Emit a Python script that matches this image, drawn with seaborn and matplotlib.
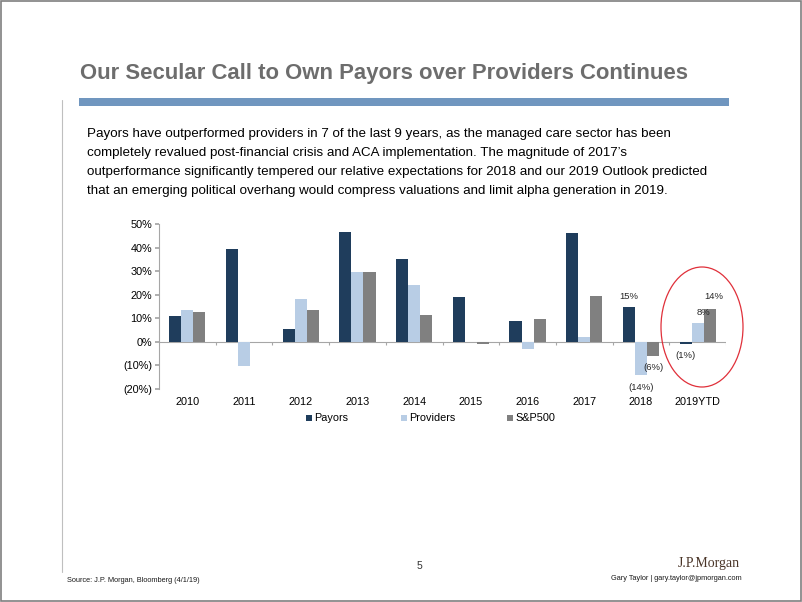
import matplotlib
matplotlib.use("Agg")
import matplotlib.pyplot as plt
from matplotlib.patches import Ellipse, Rectangle
from matplotlib.ticker import FuncFormatter
import seaborn as sns
import pandas as pd
import numpy as np

years = ["2010", "2011", "2012", "2013", "2014", "2015", "2016", "2017", "2018", "2019YTD"]
payors = [11.1, 39.6, 5.3, 46.6, 35.3, 18.9, 8.7, 46.3, 15.0, -1.0]
providers = [13.5, -10.4, 18.1, 29.6, 24.1, 0.0, -3.1, 2.1, -14.0, 8.0]
sp500 = [12.7, 0.0, 13.5, 29.6, 11.4, -0.7, 9.5, 19.4, -6.0, 14.0]
series_names = ["Payors", "Providers", "S&P500"]
colors = ["#1F3D5C", "#B8CDE5", "#808080"]

df = pd.DataFrame({
    "year": years * 3,
    "value": payors + providers + sp500,
    "series": [series_names[0]] * 10 + [series_names[1]] * 10 + [series_names[2]] * 10,
})

sns.set_theme(style="white")
plt.rcParams["font.family"] = ["Liberation Sans", "DejaVu Sans"]

fig = plt.figure(figsize=(8.02, 6.02), dpi=100)
W, H = 802, 602

def fx(x):
    return x / W

def fy(y):
    return 1 - y / H

# frame border
fig.patches.append(Rectangle((0.001, 0.001), 0.998, 0.997, transform=fig.transFigure,
                             fill=False, edgecolor="#7F7F7F", linewidth=1.2))
# left vertical rule
fig.add_artist(plt.Line2D([fx(62), fx(62)], [fy(100), fy(572)], transform=fig.transFigure,
                          color="#BFBFBF", linewidth=0.8))
# title
fig.text(fx(80), fy(74), "Our Secular Call to Own Payors over Providers Continues",
         fontsize=15.9, fontweight="bold", color="#6D6D6D", va="center", ha="left")
# blue bar
fig.patches.append(Rectangle((fx(79), fy(106)), fx(729) - fx(79), fy(98) - fy(106),
                             transform=fig.transFigure, facecolor="#7096BF", edgecolor="none"))
# paragraph
para = ("Payors have outperformed providers in 7 of the last 9 years, as the managed care sector has been\n"
        "completely revalued post-financial crisis and ACA implementation. The magnitude of 2017\u2019s\n"
        "outperformance significantly tempered our relative expectations for 2018 and our 2019 Outlook predicted\n"
        "that an emerging political overhang would compress valuations and limit alpha generation in 2019.")
fig.text(fx(87), fy(128), para, fontsize=9.6, color="#000000", va="top", ha="left", linespacing=1.76)

# chart axes
left, right, top, bottom = 159, 726, 224, 389
ax = fig.add_axes([fx(left), fy(bottom), fx(right) - fx(left), fy(top) - fy(bottom)])
sns.barplot(data=df, x="year", y="value", hue="series", palette=colors, order=years,
            hue_order=series_names, width=0.64, gap=0, dodge=True, ax=ax, legend=False,
            saturation=1, errorbar=None, linewidth=0)
ax.set_ylim(-20, 50)
ax.set_xlim(-0.5, len(years) - 0.5)
ax.set_yticks(np.arange(-20, 51, 10))
ax.yaxis.set_major_formatter(FuncFormatter(lambda v, p: f"{int(v)}%" if v >= 0 else f"({int(-v)}%)"))
ax.set_xlabel("")
ax.set_ylabel("")
for s in ["top", "right", "bottom"]:
    ax.spines[s].set_visible(False)
ax.spines["left"].set_color("#A6A6A6")
ax.spines["left"].set_linewidth(0.8)
ax.tick_params(axis="y", length=3, color="#A6A6A6", labelsize=7.8, pad=2, left=True)
ax.tick_params(axis="x", length=0, labelsize=7.8, pad=6)
ax.axhline(0, color="#A6A6A6", linewidth=0.8, zorder=0.5)
ax.vlines(np.arange(0.5, len(years) - 0.5 + 1, 1.0), -1.2, 0, color="#A6A6A6", linewidth=0.8)
for lab in ax.get_xticklabels() + ax.get_yticklabels():
    lab.set_color("#000000")

# data labels
ax.annotate("15%", (8 - 0.213, payors[8]), xytext=(0, 4), textcoords="offset points",
            ha="center", va="bottom", fontsize=6.8)
ax.annotate("(14%)", (8, providers[8]), xytext=(0, -6), textcoords="offset points",
            ha="center", va="top", fontsize=6.8)
ax.annotate("(6%)", (8 + 0.213, sp500[8]), xytext=(0, -5), textcoords="offset points",
            ha="center", va="top", fontsize=6.8)
ax.annotate("(1%)", (9 - 0.213, payors[9]), xytext=(0, -5), textcoords="offset points",
            ha="center", va="top", fontsize=6.8)
ax.annotate("8%", (9, providers[9]), xytext=(4, 4), textcoords="offset points",
            ha="center", va="bottom", fontsize=6.8)
ax.annotate("14%", (9 + 0.213, sp500[9]), xytext=(3, 6), textcoords="offset points",
            ha="center", va="bottom", fontsize=6.8)

# red ellipse
fig.patches.append(Ellipse((fx(702), fy(327)), fx(82), 120 / H, transform=fig.transFigure,
                           fill=False, edgecolor="#E0303A", linewidth=0.9))

# legend
legx = [306, 401, 507]
for x0, name, c in zip(legx, series_names, colors):
    fig.patches.append(Rectangle((fx(x0), fy(421)), fx(6), 6 / H, transform=fig.transFigure,
                                 facecolor=c, edgecolor="none"))
    fig.text(fx(x0 + 8), fy(418), name, fontsize=7.8, va="center", ha="left", color="#000000")

# footer
fig.text(fx(67), fy(580), "Source: J.P. Morgan, Bloomberg (4/1/19)", fontsize=5.3,
         va="center", ha="left", color="#1A1A1A")
fig.text(fx(419), fy(566), "5", fontsize=7.5, va="center", ha="center", color="#333333")
fig.text(fx(740), fy(563), "J.P.Morgan", fontsize=10, family="Liberation Serif",
         va="center", ha="right", color="#4A3528")
fig.text(fx(742), fy(579), "Gary Taylor | gary.taylor@jpmorgan.com", fontsize=5.3,
         va="center", ha="right", color="#1A1A1A")

fig.savefig("out.png", dpi=100)
